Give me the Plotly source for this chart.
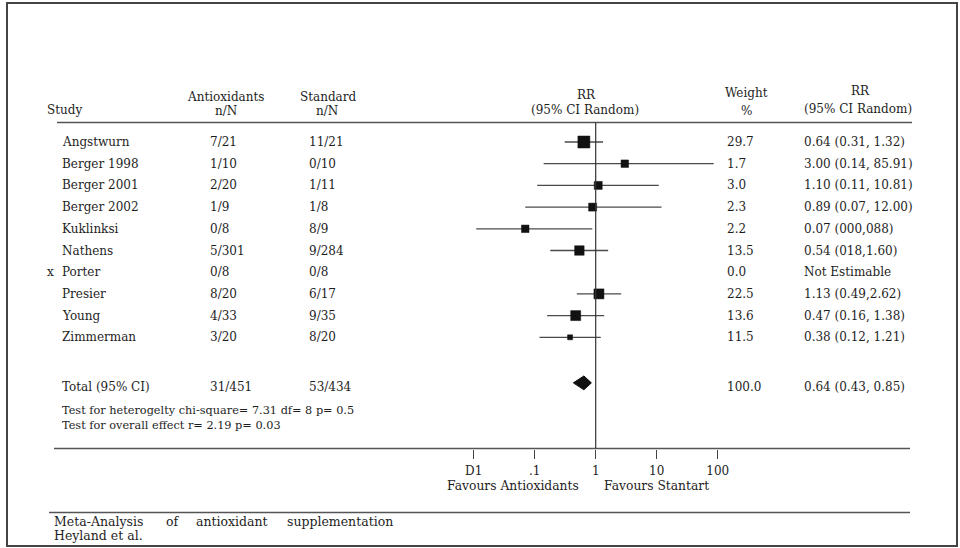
import plotly.graph_objects as go

# ---------------- data ----------------
studies = ["Angstwurn", "Berger 1998", "Berger 2001", "Berger 2002", "Kuklinksi",
           "Nathens", "Porter", "Presier", "Young", "Zimmerman"]
excluded = ["", "", "", "", "", "", "x", "", "", ""]
antiox_nN = ["7/21", "1/10", "2/20", "1/9", "0/8", "5/301", "0/8", "8/20", "4/33", "3/20"]
standard_nN = ["11/21", "0/10", "1/11", "1/8", "8/9", "9/284", "0/8", "6/17", "9/35", "8/20"]
weight_pct = [29.7, 1.7, 3.0, 2.3, 2.2, 13.5, 0.0, 22.5, 13.6, 11.5]
rr = [0.64, 3.00, 1.10, 0.89, 0.07, 0.54, None, 1.13, 0.47, 0.38]
ci_lo = [0.31, 0.14, 0.11, 0.07, 0.011, 0.18, None, 0.49, 0.16, 0.12]
ci_hi = [1.32, 85.91, 10.81, 12.00, 0.88, 1.60, None, 2.62, 1.38, 1.21]
rr_text = ["0.64 (0.31, 1.32)", "3.00 (0.14, 85.91)", "1.10 (0.11, 10.81)",
           "0.89 (0.07, 12.00)", "0.07 (000,088)", "0.54 (018,1.60)", "Not Estimable",
           "1.13 (0.49,2.62)", "0.47 (0.16, 1.38)", "0.38 (0.12, 1.21)"]

total_label = "Total (95% CI)"
total_antiox = "31/451"
total_standard = "53/434"
total_weight = 100.0
total_rr = 0.64
total_lo = 0.43
total_hi = 0.85
total_rr_text = "0.64 (0.43, 0.85)"

tick_vals = [0.01, 0.1, 1, 10, 100]
tick_text = ["D1", ".1", "1", "10", "100"]

test_lines = ["Test for heterogelty chi-square= 7.31 df= 8 p= 0.5",
              "Test for overall effect r= 2.19 p= 0.03"]
caption_words = ["Meta-Analysis", "of", "antioxidant", "supplementation"]
caption_line2 = "Heyland et al."

# ---------------- style ----------------
W, H = 960, 548
FONT = "DejaVu Serif"
TXT = "#1e1e1e"
FS = 12
marker_px = [12, 7.5, 8, 8, 7.5, 9.5, 0, 10, 10, 5]

def px(x):
    return x / W

def py(p):
    return 1 - p / H

ROW0, ROWH = 142.0, 21.7
total_row = 11.1
rows = list(range(len(studies)))

fig = go.Figure()

# CI lines
lx, ly = [], []
for i in rows:
    if rr[i] is None:
        continue
    lx += [ci_lo[i], ci_hi[i], None]
    ly += [i, i, None]
fig.add_trace(go.Scatter(x=lx, y=ly, mode="lines",
                         line=dict(color="#4a4a4a", width=1.3),
                         hoverinfo="skip", showlegend=False))

# point estimates
mx = [rr[i] for i in rows if rr[i] is not None]
my = [i for i in rows if rr[i] is not None]
ms = [marker_px[i] for i in rows if rr[i] is not None]
fig.add_trace(go.Scatter(x=mx, y=my, mode="markers",
                         marker=dict(symbol="square", size=ms, color="#111111", opacity=1,
                                     line=dict(width=0.5, color="#111111")),
                         showlegend=False))

# pooled diamond
dh = 0.32
fig.add_trace(go.Scatter(x=[total_lo, total_rr, total_hi, total_rr, total_lo],
                         y=[total_row, total_row - dh, total_row, total_row + dh, total_row],
                         mode="lines", fill="toself", fillcolor="#111111",
                         line=dict(color="#111111", width=1), showlegend=False))

ann = []
def T(x, y, text, xanchor="left", size=FS, yref="paper", xref="paper"):
    ann.append(dict(x=x, y=y, xref=xref, yref=yref, text=text, showarrow=False,
                    xanchor=xanchor, yanchor="middle",
                    font=dict(family=FONT, size=size, color=TXT)))

# headers
T(px(45), py(110), "Study")
T(px(225), py(96.5), "Antioxidants", "center")
T(px(226), py(111), "n/N", "center")
T(px(328), py(97), "Standard", "center")
T(px(327), py(111), "n/N", "center")
T(px(586), py(95.5), "RR", "center")
T(px(585), py(110), "(95% CI Random)", "center")
T(px(746), py(93), "Weight", "center")
T(px(746), py(111), "%", "center")
T(px(860), py(91), "RR", "center")
T(px(858), py(109), "(95% CI Random)", "center")

# rows
for i in rows:
    if excluded[i]:
        T(px(45), i, excluded[i], yref="y")
    T(px(60), i, studies[i], yref="y")
    T(px(208), i, antiox_nN[i], yref="y")
    T(px(307), i, standard_nN[i], yref="y")
    T(px(725), i, f"{weight_pct[i]:.1f}", yref="y")
    T(px(802), i, rr_text[i], yref="y")

T(px(60), total_row + 0.17, total_label, yref="y")
T(px(208), total_row + 0.17, total_antiox, yref="y")
T(px(307), total_row + 0.17, total_standard, yref="y")
T(px(725), total_row + 0.17, f"{total_weight:.1f}", yref="y")
T(px(802), total_row + 0.17, total_rr_text, yref="y")

T(px(60), py(410.5), test_lines[0], size=11.3)
T(px(60), py(425), test_lines[1], size=11.3)

T(px(445), py(485.5), "Favours Antioxidants", size=12.3)
T(px(602), py(485.5), "Favours Stantart", size=12.3)

cap_x = [52, 164, 194, 285]
for w, x in zip(caption_words, cap_x):
    T(px(x), py(521.5), w, size=12.5)
T(px(52), py(535), caption_line2, size=12.5)

shapes = [
    # outer frame
    dict(type="rect", xref="paper", yref="paper", x0=px(7), x1=px(957), y0=py(546), y1=py(3),
         line=dict(color="#444444", width=2)),
    # header rule
    dict(type="line", xref="paper", yref="paper", x0=px(57), x1=px(912), y0=py(122.5), y1=py(122.5),
         line=dict(color="#555555", width=1.5)),
    # axis rule
    dict(type="line", xref="paper", yref="paper", x0=px(54), x1=px(910), y0=py(448.5), y1=py(448.5),
         line=dict(color="#555555", width=1.5)),
    # caption rule
    dict(type="line", xref="paper", yref="paper", x0=px(49), x1=px(910), y0=py(512.5), y1=py(512.5),
         line=dict(color="#555555", width=1.5)),
    # line of no effect
    dict(type="line", xref="x", yref="paper", x0=1, x1=1, y0=py(448.5), y1=py(122.5),
         line=dict(color="#333333", width=1.2)),
]

# log x range so that 1 sits at 595.7 px with 61 px per decade
x_one, per_dec = 595.7, 61.0
xr = [-x_one / per_dec, (W - x_one) / per_dec]
yr = [(H - ROW0) / ROWH, -ROW0 / ROWH]

fig.update_layout(
    width=W, height=H, margin=dict(l=0, r=0, t=0, b=0),
    paper_bgcolor="white", plot_bgcolor="rgba(0,0,0,0)",
    xaxis=dict(type="log", range=xr, domain=[0, 1], anchor="free", position=py(448.5),
               showgrid=False, zeroline=False, showline=False,
               tickvals=tick_vals, ticktext=tick_text, ticks="outside", ticklen=9,
               tickwidth=1.3, tickcolor="#444444", ticklabelstandoff=2,
               tickfont=dict(family=FONT, size=12, color=TXT)),
    yaxis=dict(range=yr, domain=[0, 1], visible=False, showgrid=False, zeroline=False),
    annotations=ann, shapes=shapes, showlegend=False,
)

fig.write_html("out.html")
